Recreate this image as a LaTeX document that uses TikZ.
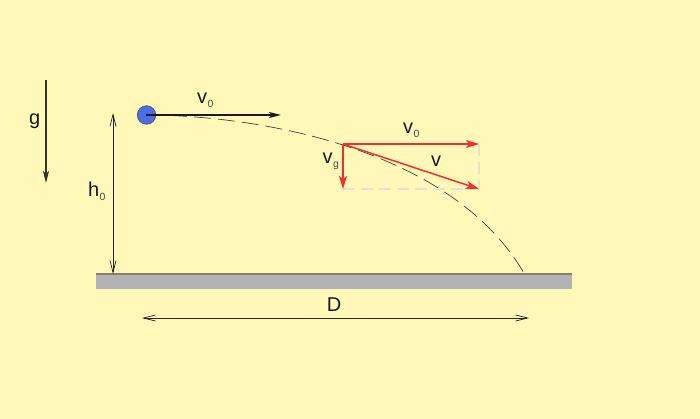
\documentclass[tikz,border=0pt]{standalone}
\usepackage{fontspec}
\setmainfont{Liberation Sans}
\usetikzlibrary{arrows.meta}
\definecolor{bgc}{HTML}{FFF8B9}
\definecolor{ballc}{HTML}{4A6EE8}
\definecolor{redc}{HTML}{F52D2D}
\definecolor{gnd}{HTML}{B3B3B3}
\definecolor{gndtop}{HTML}{7F7F72}
\definecolor{dashc}{HTML}{E2E2D6}
\newcommand{\lowidx}[1]{\kern0.3pt\raisebox{-3.5pt}{\fontsize{10.5}{13}\selectfont\color{black!70}#1}}
\tikzset{
  lbl/.style={inner sep=0pt,font=\fontsize{20}{22}\selectfont,text=black!90},
  thinarrow/.style={draw=black!85,line width=0.7pt},
  bothhead/.style={{Straight Barb[length=12pt,width=6pt]}-{Straight Barb[length=12pt,width=6pt]}},
  blackarrow/.style={draw=black!90,line width=1.5pt,-{Stealth[length=12pt,width=6pt,inset=3pt]}},
  redarrow/.style={draw=redc,line width=1.5pt,-{Stealth[length=13pt,width=8pt,inset=3pt]}},
  guide/.style={draw=dashc,line width=1.3pt,dash pattern=on 12pt off 6pt},
  traj/.style={draw=black!75,line width=0.7pt,dash pattern=on 17pt off 7pt},
}
\begin{document}
\begin{tikzpicture}[x=1pt,y=-1pt]
\path[use as bounding box,fill=bgc] (0,0) rectangle (700,419);
% ground
\fill[gnd] (96,274) rectangle (572,288.5);
\draw[gndtop,line width=1.2pt] (96,274) -- (572,274);
% named points
\coordinate (start) at (146,115);
\coordinate (land) at (524.5,274);
\coordinate (p) at (343,144);
\coordinate (vx) at (479,144);
\coordinate (vy) at (343,189);
\coordinate (vv) at (479,189);
\coordinate (v0end) at (281,115);
\coordinate (gtop) at (46,80);
\coordinate (gbot) at (46,183);
\coordinate (htop) at (113,113);
\coordinate (hbot) at (113,274);
\coordinate (dl) at (142,318);
\coordinate (dr) at (529,318);
% trajectory
\draw[traj] (start) .. controls (250,115) and (450,145) .. (land);
% guides
\draw[guide] (vx) -- (vv);
\draw[guide] (vy) -- (vv);
% ball
\node[circle,draw=black!70,fill=ballc,line width=0.6pt,minimum size=18.5pt,inner sep=0pt] (ball) at (146.5,115) {};
% black arrows
\draw[blackarrow] (start) -- (v0end);
\draw[draw=black!80,line width=1.2pt,-{Stealth[length=12pt,width=6pt,inset=3pt]}] (gtop) -- (gbot);
\draw[thinarrow,bothhead] (htop) -- (hbot);
\draw[thinarrow,bothhead] (dl) -- (dr);
% red arrows
\draw[redarrow] (p) -- (vx);
\draw[redarrow] (p) -- (vy);
\draw[redarrow] (p) -- (vv);
% labels
\node[lbl,anchor=base west] (lg) at (29,125) {g};
\node[lbl,anchor=base west] (lv0) at (197,104) {v\lowidx{0}};
\node[lbl,anchor=base west] (lh) at (88,197) {h\lowidx{0}};
\node[lbl,anchor=base] (lD) at (334,311) {D};
\node[lbl,anchor=base west] (lv0b) at (403,134) {v\lowidx{0}};
\node[lbl,anchor=base west] (lvg) at (322.5,164) {v\lowidx{g}};
\node[lbl,anchor=base west] (lv) at (431,167) {v};
\end{tikzpicture}
\end{document}
